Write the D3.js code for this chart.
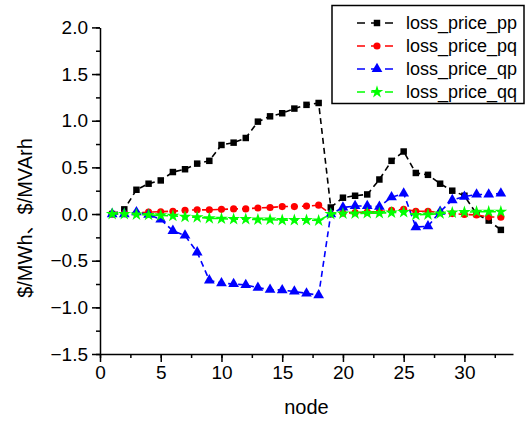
<!DOCTYPE html>
<html><head><meta charset="utf-8">
<script src="https://cdn.jsdelivr.net/npm/d3@7"></script>
<style>
body{margin:0;background:#fff;}
svg{display:block;font-family:"Liberation Sans",Arial,"Noto Sans CJK SC",sans-serif;}
</style></head>
<body>
<svg id="c" width="530" height="421"></svg>
<script>
const nodes = d3.range(1, 34);
const pp = [0, 0.05, 0.26, 0.325, 0.36, 0.45, 0.48, 0.54, 0.57, 0.74, 0.765, 0.815, 0.99, 1.047, 1.08, 1.13, 1.17, 1.19,
            0.07, 0.175, 0.196, 0.21, 0.37, 0.57, 0.67, 0.44, 0.42, 0.325, 0.25, 0.196, 0.0, -0.07, -0.17];
const pq = [0, 0.005, 0.01, 0.02, 0.025, 0.03, 0.04, 0.045, 0.045, 0.05, 0.055, 0.055, 0.065, 0.07, 0.08, 0.08, 0.085, 0.095,
            0.0, 0.01, 0.015, 0.02, 0.025, 0.04, 0.05, 0.03, 0.03, 0.015, 0.005, -0.005, -0.01, -0.03, -0.035];
const qp = [0, 0, 0.02, -0.007, -0.057, -0.18, -0.23, -0.41, -0.71, -0.74, -0.75, -0.76, -0.79, -0.81, -0.815, -0.83, -0.85, -0.87,
            0.0, 0.07, 0.086, 0.086, 0.079, 0.18, 0.22, -0.14, -0.13, 0.025, 0.15, 0.186, 0.21, 0.21, 0.22];
const qq = [0, 0, -0.005, -0.01, -0.015, -0.02, -0.03, -0.035, -0.045, -0.05, -0.055, -0.055, -0.06, -0.06, -0.065, -0.065, -0.065, -0.07,
            0.0, 0.005, 0.005, 0.01, 0.01, 0.015, 0.02, -0.01, -0.005, 0.005, 0.015, 0.02, 0.025, 0.025, 0.025];
const seriesNames = ["loss_price_pp", "loss_price_pq", "loss_price_qp", "loss_price_qq"];
const seriesColors = ["#000000", "#ff0000", "#0000ff", "#00ff00"];
const seriesSymbols = [d3.symbolSquare, d3.symbolCircle, d3.symbolTriangle, d3.symbolStar];
const xTicks = [0, 5, 10, 15, 20, 25, 30];
const yTicks = [-1.5, -1.0, -0.5, 0.0, 0.5, 1.0, 1.5, 2.0];

const series = [pp, pq, qp, qq];
const svg = d3.select("#c");
const x = d3.scaleLinear().domain([0, 34]).range([100, 513]);
const y = d3.scaleLinear().domain([-1.5, 2.0]).range([354, 27.4]);

// minor ticks
const xMinor = d3.range(0, 34.01, 2.5);
const yMinor = d3.range(-1.5, 2.001, 0.25);
svg.append("g").attr("transform", "translate(0,354)")
  .call(d3.axisBottom(x).tickValues(xMinor).tickSize(4).tickFormat(""))
  .call(g => g.select(".domain").remove())
  .call(g => g.selectAll("line").attr("stroke-width", 1.5));
svg.append("g").attr("transform", "translate(100,0)")
  .call(d3.axisLeft(y).tickValues(yMinor).tickSize(4).tickFormat(""))
  .call(g => g.select(".domain").remove())
  .call(g => g.selectAll("line").attr("stroke-width", 1.5));

const xa = svg.append("g").attr("transform", "translate(0,354)")
  .call(d3.axisBottom(x).tickValues(xTicks).tickSize(8).tickSizeOuter(0).tickPadding(4).tickFormat(d3.format("d")));
xa.selectAll("text").attr("font-size", 19).attr("font-family", null);
xa.selectAll("path,line").attr("stroke-width", 1.5);
const ya = svg.append("g").attr("transform", "translate(100,0)")
  .call(d3.axisLeft(y).tickValues(yTicks).tickSize(8).tickSizeOuter(0).tickPadding(4).tickFormat(d3.format(".1f")));
ya.selectAll("text").attr("font-size", 19).attr("font-family", null);
ya.selectAll("path,line").attr("stroke-width", 1.5);

svg.append("text").attr("x", x(17)).attr("y", 414).attr("text-anchor", "middle")
  .attr("font-size", 20).text("node");
svg.append("text").attr("transform", "translate(32,218) rotate(-90)").attr("text-anchor", "middle")
  .attr("font-size", 20).text("$/MWh、$/MVArh");

const line = d3.line().x((d, i) => x(nodes[i])).y(d => y(d));
const symSizes = [42, 40, 50, 50];
series.forEach((s, k) => {
  svg.append("path").attr("d", line(s)).attr("fill", "none")
    .attr("stroke", seriesColors[k]).attr("stroke-width", 1.6).attr("stroke-dasharray", "6,4");
  svg.append("g").selectAll("path").data(s).join("path")
    .attr("transform", (d, i) => `translate(${x(nodes[i])},${y(d)})`)
    .attr("d", d3.symbol().type(seriesSymbols[k]).size(symSizes[k]))
    .attr("fill", seriesColors[k]);
});

// legend
const lg = svg.append("g");
lg.append("rect").attr("x", 332).attr("y", 5.5).attr("width", 192).attr("height", 98)
  .attr("fill", "#fff").attr("stroke", "#000").attr("stroke-width", 1.5);
seriesNames.forEach((n, k) => {
  const yy = 23 + k * 23;
  lg.append("line").attr("x1", 357).attr("x2", 397).attr("y1", yy).attr("y2", yy)
    .attr("stroke", seriesColors[k]).attr("stroke-width", 1.6).attr("stroke-dasharray", "8,6");
  lg.append("path").attr("transform", `translate(377,${yy})`)
    .attr("d", d3.symbol().type(seriesSymbols[k]).size(symSizes[k])).attr("fill", seriesColors[k]);
  lg.append("text").attr("x", 406).attr("y", yy).attr("dy", "0.35em").attr("font-size", 18).text(n);
});
</script>
</body></html>
